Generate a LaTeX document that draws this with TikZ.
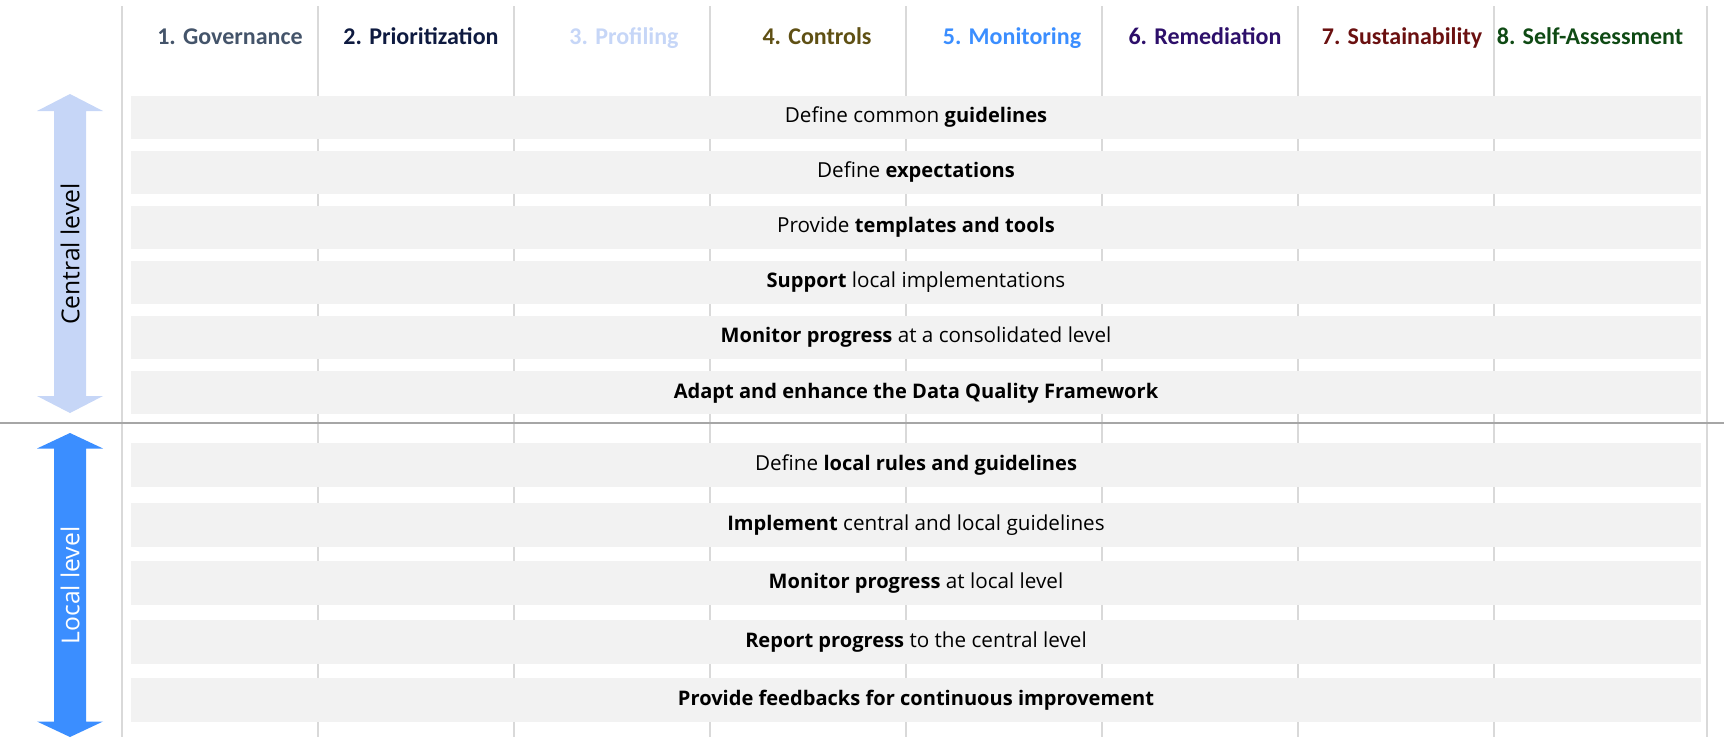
\documentclass[tikz,border=0pt]{standalone}
\usepackage{fontspec}
\setmainfont{Carlito}
\newfontfamily\barfont{Open Sans}
\newcommand\bfpart[1]{{\bfseries\fontsize{15.05}{19}\selectfont #1}}
\definecolor{bargray}{HTML}{F2F2F2}
\definecolor{gridgray}{HTML}{D9D9D9}
\definecolor{sepgray}{HTML}{A6A6A6}
\definecolor{arrowlight}{HTML}{C6D6F7}
\definecolor{arrowdark}{HTML}{3B8EFF}
\definecolor{hGov}{HTML}{44546A}
\definecolor{hPrio}{HTML}{0E1A40}
\definecolor{hProf}{HTML}{C6D6F7}
\definecolor{hCtrl}{HTML}{5F5014}
\definecolor{hMon}{HTML}{3B8EFF}
\definecolor{hRem}{HTML}{2D0F6A}
\definecolor{hSus}{HTML}{6A1010}
\definecolor{hSelf}{HTML}{0F4A14}
\begin{document}
\begin{tikzpicture}[x=0.75pt,y=-0.75pt,
  gridline/.style={draw=gridgray,line width=0.9pt},
  sepline/.style={draw=sepgray,line width=0.8pt},
  barbox/.style={fill=bargray,draw=none,inner sep=0pt,minimum width=1177.5pt,
     text height=0.84em,text depth=0pt,font=\barfont\fontsize{15.5}{19}\selectfont},
  upbar/.style={barbox,minimum height=32.25pt},
  lowbar/.style={barbox,minimum height=33pt},
  head/.style={anchor=base,inner sep=0pt,font=\fontsize{18}{21}\selectfont\bfseries},
  levellabel/.style={rotate=90,inner sep=0pt,font=\barfont\fontsize{18.5}{22}\selectfont}
]
\useasboundingbox (0,0) rectangle (1724,754);

% grid lines
\foreach \x [count=\i] in {122,318,514,710,906,1102,1298,1494,1707}{
  \coordinate (gt\i) at (\x,6);
  \coordinate (gb\i) at (\x,737);
  \draw[gridline] (gt\i) -- (gb\i);
}

% separator
\coordinate (sepL) at (0,423);
\coordinate (sepR) at (1724,423);
\draw[sepline] (sepL) -- (sepR);

% headers
\node[head,text=hGov]  (h1) at (230,44)  {1. Governance};
\node[head,text=hPrio] (h2) at (421,44)  {2. Prioritization};
\node[head,text=hProf] (h3) at (624,44)  {3. Profiling};
\node[head,text=hCtrl] (h4) at (817,44)  {4. Controls};
\node[head,text=hMon]  (h5) at (1012,44) {5. Monitoring};
\node[head,text=hRem]  (h6) at (1205,44) {6. Remediation};
\node[head,text=hSus]  (h7) at (1402,44) {7. Sustainability};
\node[head,text=hSelf] (h8) at (1590,44) {8. Self-Assessment};

% central bars
\node[upbar] (c1) at (916,117) {Define common \bfpart{guidelines}};
\node[upbar] (c2) at (916,172) {Define \bfpart{expectations}};
\node[upbar] (c3) at (916,227) {Provide \bfpart{templates and tools}};
\node[upbar] (c4) at (916,282) {\bfpart{Support} local implementations};
\node[upbar] (c5) at (916,337) {\bfpart{Monitor progress} at a consolidated level};
\node[upbar] (c6) at (916,392.5) {\bfpart{Adapt and enhance the Data Quality Framework}};

% local bars
\node[lowbar] (l1) at (916,465) {Define \bfpart{local rules and guidelines}};
\node[lowbar] (l2) at (916,524.5) {\bfpart{Implement} central and local guidelines};
\node[lowbar] (l3) at (916,583) {\bfpart{Monitor progress} at local level};
\node[lowbar] (l4) at (916,642) {\bfpart{Report progress} to the central level};
\node[lowbar] (l5) at (916,700) {\bfpart{Provide feedbacks for continuous improvement}};

% arrows
\fill[arrowlight] (70,94) -- (103,111) -- (86,111) -- (86,396) -- (103,396) -- (70,413)
  -- (37,396) -- (54,396) -- (54,111) -- (37,111) -- cycle;
\fill[arrowdark] (70,433) -- (103,448.5) -- (86,448.5) -- (86,721.5) -- (103,721.5) -- (70,737)
  -- (37,721.5) -- (54,721.5) -- (54,448.5) -- (37,448.5) -- cycle;

\node[levellabel,text=black] (cl) at (70,254) {Central level};
\node[levellabel,text=white] (ll) at (70,585.5) {Local level};
\end{tikzpicture}
\end{document}
